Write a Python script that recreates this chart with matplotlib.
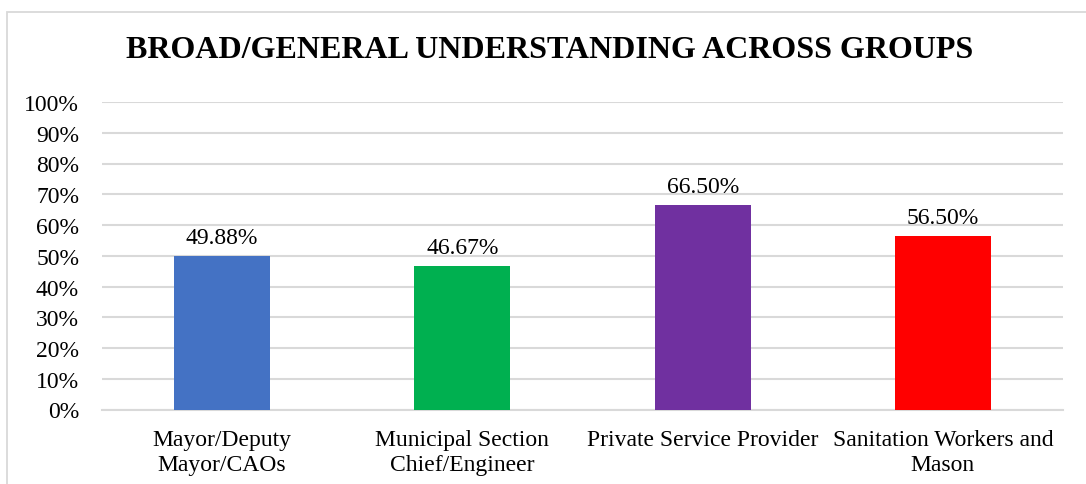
import matplotlib.pyplot as plt
from matplotlib.patches import Rectangle
from matplotlib.ticker import PercentFormatter

# chart data
groups = ['Mayor/Deputy\nMayor/CAOs', 'Municipal Section\nChief/Engineer',
          'Private Service Provider', 'Sanitation Workers and\nMason']
scores = [49.88, 46.67, 66.50, 56.50]
bar_colors = ['#4472C4', '#00B050', '#7030A0', '#FF0000']
y_ticks = list(range(0, 101, 10))

plt.rcParams['font.family'] = ['Liberation Serif', 'DejaVu Serif']

W, H = 1086, 485
fig = plt.figure(figsize=(W / 100, H / 100), dpi=100)

# outer chart frame (runs off the right and bottom edges)
fig.patches.append(Rectangle((7 / W, -0.05), 1.2, 1 - 13 / H + 0.05,
                             transform=fig.transFigure, fill=False,
                             edgecolor='#d9d9d9', linewidth=1.3))

ax = fig.add_axes([102 / W, 1 - 410.5 / H, (1063 - 102) / W, (410.5 - 103) / H])

x = range(len(groups))
ax.bar(x, scores, width=0.4, color=bar_colors, zorder=3)
for xi, v in zip(x, scores):
    ax.text(xi, v + 2.6, f'{v:.2f}%', ha='center', va='bottom', fontsize=17)

ax.set_xlim(-0.5, len(groups) - 0.5)
ax.set_ylim(0, 100)
ax.set_yticks(y_ticks)
ax.yaxis.set_major_formatter(PercentFormatter(decimals=0))
ax.set_xticks(list(x))
ax.set_xticklabels(groups, fontsize=17, linespacing=1.25)
ax.tick_params(axis='y', labelsize=17, length=0, pad=16.5)
ax.tick_params(axis='x', length=0, pad=14)
ax.grid(axis='y', color='#d9d9d9', linewidth=1.5, zorder=0)
for side in ['top', 'right', 'left']:
    ax.spines[side].set_visible(False)
ax.spines['bottom'].set_color('#d9d9d9')
ax.spines['bottom'].set_linewidth(1.5)

fig.text(550 / W, 1 - 51 / H, 'BROAD/GENERAL UNDERSTANDING ACROSS GROUPS',
         ha='center', va='center', fontsize=23, fontweight='bold')

fig.savefig('out.png', dpi=100)
